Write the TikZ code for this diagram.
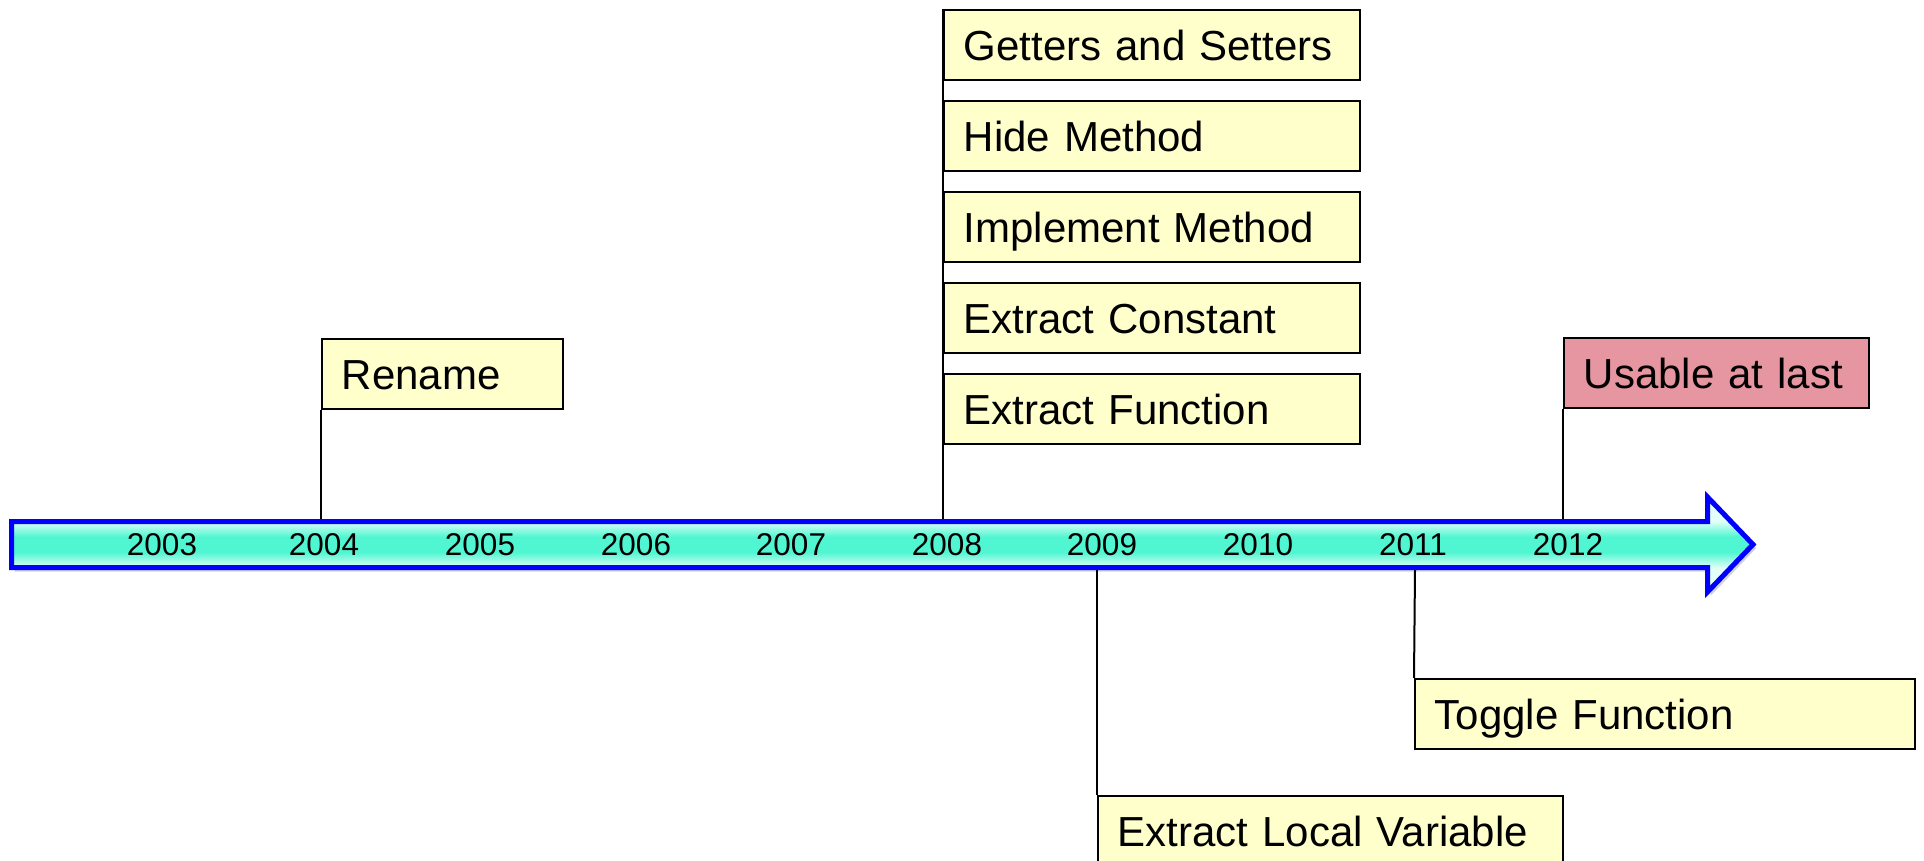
\documentclass[tikz,border=0pt]{standalone}
\usepackage{fontspec}
\setmainfont{Liberation Sans}
\usetikzlibrary{shadows}
\definecolor{boxyellow}{RGB}{255,255,204}
\definecolor{boxpink}{RGB}{230,150,160}
\definecolor{aqua}{RGB}{80,246,210}
\definecolor{aqualight}{RGB}{228,255,248}
\pgfdeclareverticalshading{barshade}{100bp}{color(0bp)=(aqualight);
  color(37.5bp)=(aqualight); color(46bp)=(aqua); color(54bp)=(aqua);
  color(62.5bp)=(aqualight); color(100bp)=(aqualight)}
\tikzset{
  event/.style={draw, line width=0.8pt, fill=boxyellow, anchor=north west,
    minimum height=35pt, inner xsep=10pt, inner ysep=0pt, align=left,
    text width=#1, text height=18.5pt, text depth=2.5pt,
    font=\fontsize{21}{25}\selectfont},
  stem/.style={line width=1pt},
  year/.style={anchor=base, font=\fontsize{15.75}{18}\selectfont},
  timebar/.style={draw=blue, line width=2.5pt, line join=miter, shading=barshade,
    drop shadow={shadow xshift=1.5pt, shadow yshift=-2pt, opacity=0.35}},
}

\begin{document}
\begin{tikzpicture}[x=0.5pt, y=-0.5pt]
  \clip (0,0) rectangle (1924,861);

  % Time bar
  \draw[timebar] (11.5,521.5) -- (1707.5,521.5) -- (1707.5,497) -- (1753,544.5)
    -- (1707.5,592) -- (1707.5,567.5) -- (11.5,567.5) -- cycle;

  % Years
  \foreach \yr/\xx in {2003/162, 2004/324, 2005/480, 2006/636, 2007/791,
                       2008/947, 2009/1102, 2010/1258, 2011/1413, 2012/1568}
    \node[year] (y\yr) at (\xx,555) {\yr};

  % Stem ends on the bar
  \coordinate (s2004) at (321,519);
  \coordinate (s2008) at (943,519);
  \coordinate (s2012) at (1563,519);
  \coordinate (s2009) at (1097,570);
  \coordinate (s2011) at (1415,570);

  % Events above the bar
  \node[event=100.5pt] (rename) at (321,338) {Rename};
  \node[event=188pt] (getters) at (943,9) {Getters and Setters};
  \node[event=188pt] (hide) at (943,100) {Hide Method};
  \node[event=188pt] (implement) at (943,191) {Implement Method};
  \node[event=188pt] (constant) at (943,282) {Extract Constant};
  \node[event=188pt] (function) at (943,373) {Extract Function};
  \node[event=132.5pt, fill=boxpink] (usable) at (1563,337) {Usable at last};

  % Events below the bar
  \node[event=212.5pt] (localvar) at (1097,795) {Extract Local Variable};
  \node[event=230pt] (toggle) at (1414,678) {Toggle Function};

  % Stems
  \draw[stem] (rename.south west) -- (s2004);
  \draw[stem] (getters.north west) -- (s2008);
  \draw[stem] (usable.south west) -- (s2012);
  \draw[stem] (s2009) -- (localvar.north west);
  \draw[stem] (s2011) -- (toggle.north west);
\end{tikzpicture}
\end{document}
